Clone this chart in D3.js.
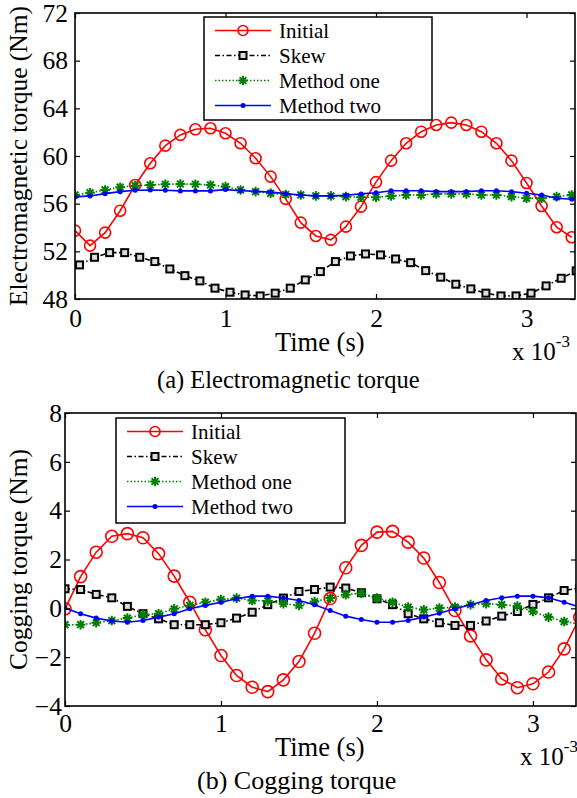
<!DOCTYPE html>
<html>
<head>
<meta charset="utf-8">
<script src="https://cdn.jsdelivr.net/npm/d3@7"></script>
<style>
  body { margin: 0; background: #fff; }
  text { font-family: "Liberation Serif", "Times New Roman", serif; fill: #000; }
</style>
</head>
<body>
<svg id="mainsvg" width="577" height="798"></svg>
<script>
// time axis in ms (labels read "x 10^-3")
const timeMs = [0, 0.1, 0.2, 0.3, 0.4, 0.5, 0.6, 0.7, 0.8, 0.9, 1.0, 1.1, 1.2, 1.3, 1.4, 1.5, 1.6,
    1.7, 1.8, 1.9, 2.0, 2.1, 2.2, 2.3, 2.4, 2.5, 2.6, 2.7, 2.8, 2.9, 3.0, 3.1, 3.2, 3.3];
// skew samples in panel (a) sit slightly later
const skewTimeMs = [0.03, 0.13, 0.23, 0.33, 0.43, 0.53, 0.63, 0.73, 0.83, 0.93, 1.03, 1.13, 1.23, 1.33,
    1.43, 1.53, 1.63, 1.73, 1.83, 1.93, 2.03, 2.13, 2.23, 2.33, 2.43, 2.53, 2.63, 2.73, 2.83, 2.93,
    3.03, 3.13, 3.23, 3.33];

const seriesNames = ['Initial', 'Skew', 'Method one', 'Method two'];

// (a) electromagnetic torque, Nm
const emInitial = [53.74, 52.48, 53.57, 55.41, 57.57, 59.39, 60.87, 61.77, 62.24, 62.33, 61.91, 61.07,
    59.81, 58.27, 56.40, 54.41, 53.29, 52.96, 54.07, 55.75, 57.81, 59.61, 61.07, 62.04, 62.60, 62.80,
    62.60, 62.04, 61.07, 59.61, 57.74, 55.81, 54.02, 53.18];
const emSkew = [50.86, 51.50, 51.89, 51.89, 51.50, 51.14, 50.52, 49.96, 49.52, 48.91, 48.57, 48.34,
    48.26, 48.49, 48.91, 49.60, 50.30, 51.14, 51.61, 51.78, 51.70, 51.36, 51.05, 50.38, 49.83, 49.24,
    48.85, 48.49, 48.26, 48.26, 48.49, 49.10, 49.74, 50.36];
const emMethodOne = [56.73, 56.92, 57.15, 57.38, 57.51, 57.57, 57.63, 57.65, 57.63, 57.57, 57.43, 57.15,
    57.01, 56.87, 56.77, 56.73, 56.65, 56.65, 56.59, 56.54, 56.54, 56.65, 56.73, 56.73, 56.82, 56.82,
    56.82, 56.73, 56.73, 56.59, 56.45, 56.45, 56.59, 56.73];
const emMethodTwo = [56.57, 56.65, 56.84, 57.01, 57.13, 57.15, 57.13, 57.07, 57.07, 57.07, 57.18, 57.09,
    57.04, 56.97, 56.84, 56.73, 56.65, 56.65, 56.71, 56.82, 56.92, 57.09, 57.09, 57.09, 57.01, 57.01,
    57.01, 57.09, 57.09, 57.01, 56.87, 56.73, 56.45, 56.37];
const emTicks = [48, 52, 56, 60, 64, 68, 72];

// (b) cogging torque, Nm
const cgInitial = [-0.02, 1.30, 2.30, 2.95, 3.06, 2.89, 2.24, 1.32, 0.25, -0.88, -1.93, -2.75, -3.23,
    -3.41, -2.93, -2.18, -1.02, 0.40, 1.66, 2.58, 3.12, 3.15, 2.71, 2.06, 1.06, -0.09, -1.13, -2.11,
    -2.89, -3.25, -3.09, -2.61, -1.66, -0.37];
const cgSkew = [0.80, 0.77, 0.57, 0.43, 0.08, -0.22, -0.43, -0.67, -0.67, -0.67, -0.59, -0.40, -0.16,
    0.15, 0.42, 0.69, 0.77, 0.87, 0.83, 0.64, 0.39, 0.15, -0.22, -0.43, -0.59, -0.70, -0.70, -0.52,
    -0.32, -0.13, 0.16, 0.43, 0.73, 0.83];
const cgMethodOne = [-0.67, -0.67, -0.59, -0.50, -0.40, -0.26, -0.22, -0.02, 0.12, 0.25, 0.36, 0.42,
    0.32, 0.30, 0.19, 0.12, 0.28, 0.42, 0.56, 0.62, 0.42, 0.25, 0.05, -0.06, 0.01, 0.05, 0.15, 0.19,
    0.15, 0.09, -0.13, -0.36, -0.54, -0.65];
const cgMethodTwo = [0.01, -0.22, -0.40, -0.52, -0.57, -0.50, -0.36, -0.22, -0.02, 0.12, 0.25, 0.39,
    0.50, 0.50, 0.42, 0.32, 0.15, -0.09, -0.32, -0.46, -0.57, -0.57, -0.50, -0.36, -0.20, -0.02, 0.15,
    0.32, 0.43, 0.50, 0.50, 0.43, 0.25, 0.05];
const cgTicks = [-4, -2, 0, 2, 4, 6, 8];

const xTicks = [0, 1, 2, 3];

const svg = d3.select('#mainsvg');

const styles = [
    { color: '#ff0000', dash: null, marker: 'circle' },
    { color: '#000000', dash: '5,2.5,1.5,2.5', marker: 'square' },
    { color: '#008000', dash: '1.5,2', marker: 'asterisk' },
    { color: '#0000ff', dash: null, marker: 'dot' }
];

const drawMarker = function(sel, type, color, r) {
    if (type === 'circle') {
        sel.append('circle').attr('r', r).attr('fill', 'none')
            .attr('stroke', color).attr('stroke-width', 1.6);
    } else if (type === 'square') {
        sel.append('rect').attr('x', -3.5).attr('y', -3.5).attr('width', 7).attr('height', 7)
            .attr('fill', '#ddd').attr('stroke', color).attr('stroke-width', 2);
    } else if (type === 'asterisk') {
        const a = 4.8, k = 3.4;
        sel.append('path')
            .attr('d', `M${-a},0H${a}M0,${-a}V${a}M${-k},${-k}L${k},${k}M${-k},${k}L${k},${-k}`)
            .attr('stroke', color).attr('stroke-width', 2).attr('fill', 'none');
    } else {
        sel.append('circle').attr('r', 2.5).attr('fill', color);
    }
};

const renderPanel = function(p) {
    const innerWidth = p.right - p.left;
    const innerHeight = p.bottom - p.top;
    const xScale = d3.scaleLinear().domain([0, p.xMax]).range([0, innerWidth]);
    const yScale = d3.scaleLinear().domain(p.yDomain).range([innerHeight, 0]);

    const g = svg.append('g').attr('transform', `translate(${p.left}, ${p.top})`);

    g.append('clipPath').attr('id', p.id + 'clip')
        .append('rect').attr('width', innerWidth).attr('height', innerHeight);

    // data
    const plot = g.append('g').attr('clip-path', `url(#${p.id}clip)`);
    p.series.forEach((s, i) => {
        const st = styles[i];
        const pts = s.values.map((v, j) => ({ t: s.time[j], v: v }));
        const line = d3.line().x(d => xScale(d.t)).y(d => yScale(d.v));
        plot.append('path').datum(pts)
            .attr('d', line)
            .attr('fill', 'none')
            .attr('stroke', st.color)
            .attr('stroke-width', 1.6)
            .attr('stroke-dasharray', st.dash);
        plot.selectAll('.mk' + i).data(pts).enter().append('g')
            .attr('class', 'mk' + i)
            .attr('transform', d => `translate(${xScale(d.t)}, ${yScale(d.v)})`)
            .each(function() { drawMarker(d3.select(this), st.marker, st.color, p.circleR); });
    });

    // axes, ticks pointing inward
    const xAxis = d3.axisBottom(xScale).tickValues(xTicks).tickSize(-5).tickPadding(p.xPad).tickFormat(d3.format('d'));
    const yAxis = d3.axisLeft(yScale).tickValues(p.yTicks).tickSize(-5).tickPadding(p.yPad);
    const xa = g.append('g').attr('transform', `translate(0, ${innerHeight})`).call(xAxis);
    const ya = g.append('g').call(yAxis);
    g.append('g').call(d3.axisTop(xScale).tickValues(xTicks).tickSize(-5).tickFormat(''));
    g.append('g').attr('transform', `translate(${innerWidth}, 0)`)
        .call(d3.axisRight(yScale).tickValues(p.yTicks).tickSize(-5).tickFormat(''));
    g.selectAll('.domain').remove();
    g.selectAll('.tick line').attr('stroke', '#000').attr('stroke-width', 1.2);
    [xa, ya].forEach(a => a.selectAll('text')
        .attr('font-size', '25.5px')
        .attr('font-family', '"Liberation Serif", "Times New Roman", serif')
        .attr('fill', '#000'));

    g.append('rect').attr('width', innerWidth).attr('height', innerHeight)
        .attr('fill', 'none').attr('stroke', '#000').attr('stroke-width', 1.6);

    // labels
    svg.append('text').attr('transform', `translate(${p.yLabelX}, ${(p.top + p.bottom) / 2}) rotate(-90)`)
        .attr('text-anchor', 'middle').attr('font-size', '25.5px').text(p.yLabel);
    svg.append('text').attr('x', 275).attr('y', p.xLabelY).attr('font-size', '26.5px').text('Time (s)');
    const sci = svg.append('text').attr('x', p.sciX).attr('y', p.sciY).attr('font-size', '25px');
    sci.append('tspan').text('x 10');
    sci.append('tspan').attr('dy', -13).attr('font-size', '17px').text('-3');
    svg.append('text').attr('x', p.capX).attr('y', p.capY).attr('font-size', p.capSize).text(p.caption);

    // legend
    const lg = svg.append('g').attr('transform', `translate(${p.legend.x}, ${p.legend.y})`);
    lg.append('rect').attr('width', p.legend.w).attr('height', p.legend.h)
        .attr('fill', '#fff').attr('stroke', '#000').attr('stroke-width', 1.5);
    seriesNames.forEach((name, i) => {
        const st = styles[i];
        const cy = 13.5 + i * 25;
        lg.append('line').attr('x1', 11).attr('x2', 67).attr('y1', cy).attr('y2', cy)
            .attr('stroke', st.color).attr('stroke-width', 1.6).attr('stroke-dasharray', st.dash);
        const m = lg.append('g').attr('transform', `translate(39, ${cy})`);
        drawMarker(m, st.marker, st.color, 5);
        lg.append('text').attr('x', 75).attr('y', cy).attr('dy', '0.35em')
            .attr('font-size', '21px').text(name);
    });
};

renderPanel({
    id: 'a', left: 75, top: 13, right: 575, bottom: 299,
    xMax: 3.322, yDomain: [48, 72], yTicks: emTicks, circleR: 5.5,
    xPad: 10, yPad: 7,
    series: [
        { time: timeMs, values: emInitial },
        { time: skewTimeMs, values: emSkew },
        { time: timeMs, values: emMethodOne },
        { time: timeMs, values: emMethodTwo }
    ],
    yLabel: 'Electromagnetic torque (Nm)', yLabelX: 27,
    xLabelY: 351, sciX: 512, sciY: 360,
    caption: '(a) Electromagnetic torque', capX: 157, capY: 388, capSize: '24.5px',
    legend: { x: 204, y: 17, w: 228, h: 103 }
});

renderPanel({
    id: 'b', left: 65, top: 413, right: 576, bottom: 706,
    xMax: 3.276, yDomain: [-4, 8], yTicks: cgTicks, circleR: 6,
    xPad: 8, yPad: 3,
    series: [
        { time: timeMs, values: cgInitial },
        { time: timeMs, values: cgSkew },
        { time: timeMs, values: cgMethodOne },
        { time: timeMs, values: cgMethodTwo }
    ],
    yLabel: 'Cogging torque (Nm)', yLabelX: 27,
    xLabelY: 756, sciX: 520, sciY: 765,
    caption: '(b) Cogging torque', capX: 197, capY: 789, capSize: '26px',
    legend: { x: 116, y: 418, w: 229, h: 105 }
});
</script>
</body>
</html>
